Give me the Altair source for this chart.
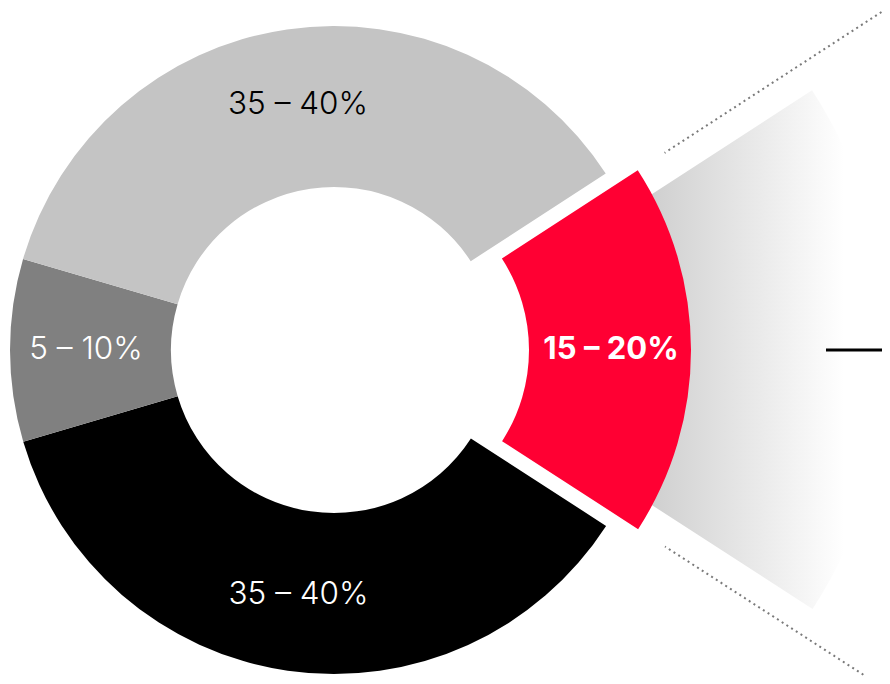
import math
import altair as alt
import pandas as pd

# Segment data (clockwise, starting at the upper edge of the highlighted red segment)
categories = ["red", "black", "darkgray", "lightgray"]
labels = ["15 – 20%", "35 – 40%", "5 – 10%", "35 – 40%"]
shares = [18.3, 36.3, 9.1, 36.3]
colors = ["#ff0033", "#000000", "#808080", "#c4c4c4"]
label_colors = ["#ffffff", "#ffffff", "#ffffff", "#000000"]

df = pd.DataFrame({"cat": categories, "label": labels, "share": shares, "lcolor": label_colors})
df["end"] = df["share"].cumsum()
df["start"] = df["end"] - df["share"]
df["mid"] = (df["start"] + df["end"]) / 2

a0 = math.radians(57)
theta_scale = alt.Scale(domain=[0, 100], range=[a0, a0 + 2 * math.pi])
color_scale = alt.Scale(domain=categories, range=colors)

# geometry (pixels in the plot frame)
DONUT_X, CY = 326, 342
RED_X = 353
FAN_X = 404

base = alt.Chart(df)
is_red = alt.datum.cat == "red"
not_red = alt.datum.cat != "red"

fan = base.transform_filter(is_red).mark_arc(
    radius=477, radius2=250,
    fill=alt.Gradient(
        gradient="linear", x1=0, x2=1, y1=0, y2=0,
        stops=[alt.GradientStop(color="#c8c8c8", offset=0),
               alt.GradientStop(color="#ffffff", offset=0.83)],
    ),
).encode(
    theta=alt.Theta("start:Q", scale=theta_scale), theta2="end:Q",
    x=alt.value(FAN_X), y=alt.value(CY),
)

donut = base.transform_filter(not_red).mark_arc(radius=324, radius2=163).encode(
    theta=alt.Theta("start:Q", scale=theta_scale), theta2="end:Q",
    color=alt.Color("cat:N", scale=color_scale, legend=None),
    x=alt.value(DONUT_X), y=alt.value(CY),
)

red = base.transform_filter(is_red).mark_arc(radius=330, radius2=168).encode(
    theta=alt.Theta("start:Q", scale=theta_scale), theta2="end:Q",
    color=alt.Color("cat:N", scale=color_scale, legend=None),
    x=alt.value(RED_X), y=alt.value(CY),
)

# dotted guides: zero-sweep arcs (path goes out and back, so length is chosen
# so that the return pass lands exactly on the outgoing dots)
dot_style = dict(radius=699, radius2=362, filled=False, stroke="#7a7a7a",
                 strokeWidth=2, strokeDash=[2, 3.6])
dots_top = base.transform_filter(is_red).mark_arc(**dot_style).encode(
    theta=alt.Theta("start:Q", scale=theta_scale), theta2="start:Q",
    x=alt.value(RED_X), y=alt.value(CY),
)
dots_bottom = base.transform_filter(is_red).mark_arc(**dot_style).encode(
    theta=alt.Theta("end:Q", scale=theta_scale), theta2="end:Q",
    x=alt.value(RED_X), y=alt.value(CY),
)

leader = base.transform_filter(is_red).mark_arc(
    radius=560, radius2=465, filled=False, stroke="#000000", strokeWidth=3,
).encode(
    theta=alt.Theta("mid:Q", scale=theta_scale), theta2="mid:Q",
    x=alt.value(RED_X), y=alt.value(CY + 0.5),
)

gray_labels = base.transform_filter(not_red).mark_text(
    radius=248, font="Inter", fontSize=31.5, fontWeight=300,
).encode(
    theta=alt.Theta("mid:Q", scale=theta_scale),
    text="label:N",
    fill=alt.Fill("lcolor:N", scale=None),
    x=alt.value(DONUT_X), y=alt.value(CY),
)

red_label = base.transform_filter(is_red).mark_text(
    radius=250, font="Inter", fontSize=31, fontWeight="bold", color="#ffffff",
).encode(
    theta=alt.Theta("mid:Q", scale=theta_scale),
    text="label:N",
    x=alt.value(RED_X), y=alt.value(CY),
)

chart = alt.layer(
    fan, donut, red, dots_top, dots_bottom, leader, gray_labels, red_label
).properties(
    width=874, height=668, padding=0,
    autosize=alt.AutoSizeParams(type="none"),
).configure_view(strokeWidth=0)

chart.save("out.html", embed_options={"renderer": "svg", "actions": False})
